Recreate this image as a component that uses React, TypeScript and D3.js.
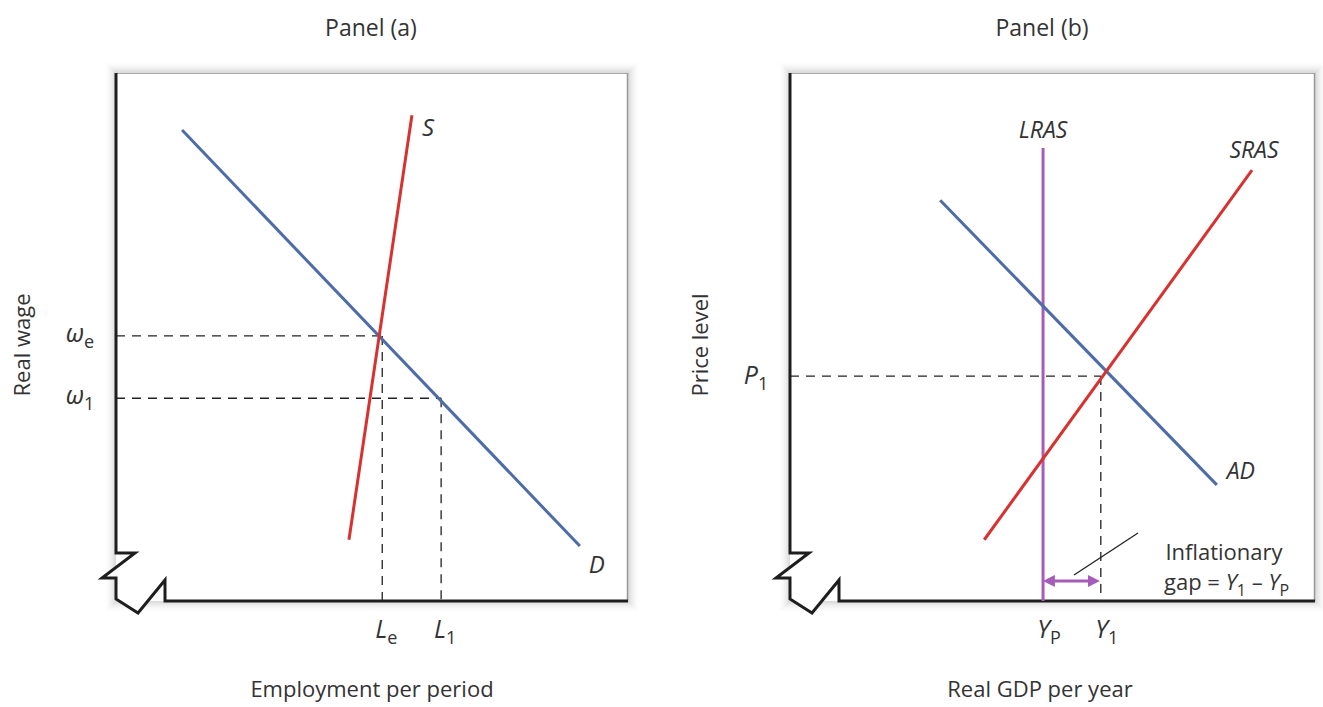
import React from "react";
import * as d3 from "d3";

// ---- Data (domain units 0..10 for each panel) ----
const demandA: [number, number][] = [[1.29, 8.92], [9.06, 1.04]];
const supplyA: [number, number][] = [[4.55, 1.16], [5.78, 9.2]];
const wageLevels = [5.02, 3.84];
const wageLabels = [["ω", "e"], ["ω", "1"]];
const employmentLevels = [5.2, 6.35];
const employmentLabels = [["L", "e"], ["L", "1"]];

const lrasX = 4.82;
const lrasTop = 8.58;
const srasB: [number, number][] = [[3.7, 1.16], [8.8, 8.16]];
const adB: [number, number][] = [[2.86, 7.59], [8.13, 2.2]];
const priceLevel = 4.26;
const outputLevels = [4.82, 5.92];
const outputLabels = [["Y", "P"], ["Y", "1"]];
const gapArrow = [5.0, 5.72];
const gapY = 0.38;

const W = 1323, H = 707;
const FONT = "'Open Sans', 'Noto Sans', sans-serif";
const BLUE = "#4d6ca8";
const RED = "#d7322f";
const PURPLE = "#a65cb8";
const TXT = "#333";
const shadowSteps = d3.range(1, 13);

function Sub({ x, y, main, sub, anchor = "middle" }: any) {
  return (
    <text x={x} y={y} textAnchor={anchor} fontFamily={FONT} fill={TXT} fontSize={25}>
      <tspan fontStyle="italic">{main}</tspan>
      <tspan fontSize={18} dy={6}>{sub}</tspan>
    </text>
  );
}

function Frame({ x0, x1, y0, y1 }: any) {
  const brk = [
    [x0, y1], [x0, y0 - 48], [x0 + 19, y0 - 48], [x0 - 14, y0 - 23], [x0, y0 - 23],
    [x0, y0 - 2], [x0 + 22, y0 + 12], [x0 + 49, y0 - 21], [x0 + 49, y0], [x1, y0],
  ];
  const line = d3.line();
  return (
    <g>
      {shadowSteps.map(i => (
        <rect key={i} x={x0 - i + 0.5} y={y1 - i + 0.5} width={x1 - x0 + 2 * i - 1} height={y0 - y1 + 2 * i - 1}
          fill="none" stroke="#000" strokeOpacity={0.17 * Math.pow(1 - i / 13, 2)} strokeWidth={1} />
      ))}
      <rect x={x0} y={y1} width={x1 - x0} height={y0 - y1} fill="#fff" />
      <line x1={x0} y1={y1 + 0.5} x2={x1} y2={y1 + 0.5} stroke="#aaa" strokeWidth={1} />
      <line x1={x1 - 0.5} y1={y1} x2={x1 - 0.5} y2={y0} stroke="#999" strokeWidth={1.5} />
      <path d={line(brk as any) || ""} fill="#fff" stroke="#1e1e1e" strokeWidth={3} strokeLinejoin="miter" />
    </g>
  );
}

export default function App() {
  const A = { x0: 116, x1: 628, y0: 601, y1: 73 };
  const B = { x0: 790, x1: 1315, y0: 601, y1: 73 };
  const xa = d3.scaleLinear().domain([0, 10]).range([A.x0, A.x1]);
  const ya = d3.scaleLinear().domain([0, 10]).range([A.y0, A.y1]);
  const xb = d3.scaleLinear().domain([0, 10]).range([B.x0, B.x1]);
  const yb = d3.scaleLinear().domain([0, 10]).range([B.y0, B.y1]);
  const lineA = d3.line<[number, number]>().x(d => xa(d[0])).y(d => ya(d[1]));
  const lineB = d3.line<[number, number]>().x(d => xb(d[0])).y(d => yb(d[1]));
  const dash = "9,7";

  return (
    <svg width={W} height={H} style={{ display: "block", position: "absolute", left: 0, top: 0 }}>
      <defs>
        <marker id="arrL" viewBox="0 0 10 10" refX="2" refY="5" markerWidth="4" markerHeight="4" orient="auto-start-reverse">
          <path d="M0,0 L10,5 L0,10 z" fill={PURPLE} />
        </marker>
      </defs>
      <rect width={W} height={H} fill="#fff" />

      {/* Panel (a) */}
      <text x={371} y={36} textAnchor="middle" fontFamily={FONT} fontSize={23} fill={TXT}>Panel (a)</text>
      <Frame {...A} />
      {wageLevels.map((w, i) => (
        <g key={"w" + i}>
          <line x1={xa(0)} x2={xa(employmentLevels[i])} y1={ya(w)} y2={ya(w)} stroke="#222" strokeWidth={1.3} strokeDasharray={dash} />
          <line x1={xa(employmentLevels[i])} x2={xa(employmentLevels[i])} y1={ya(w)} y2={ya(0)} stroke="#222" strokeWidth={1.3} strokeDasharray={dash} />
          <Sub x={80} y={ya(w) + 6} main={wageLabels[i][0]} sub={wageLabels[i][1]} />
        </g>
      ))}
      {employmentLevels.map((e, i) => (
        <Sub key={"e" + i} x={xa(e) + 4} y={638} main={employmentLabels[i][0]} sub={employmentLabels[i][1]} />
      ))}
      <path d={lineA(demandA) || ""} stroke={BLUE} strokeWidth={3} fill="none" />
      <path d={lineA(supplyA) || ""} stroke={RED} strokeWidth={3} fill="none" />
      <text x={xa(demandA[1][0]) + 17} y={ya(demandA[1][1]) + 27} textAnchor="middle" fontFamily={FONT} fontStyle="italic" fontSize={24} fill={TXT}>D</text>
      <text x={xa(supplyA[1][0]) + 16} y={ya(supplyA[1][1]) + 21} textAnchor="middle" fontFamily={FONT} fontStyle="italic" fontSize={24} fill={TXT}>S</text>
      <text x={372} y={697} textAnchor="middle" fontFamily={FONT} fontSize={22} fill={TXT}>Employment per period</text>
      <text transform="translate(30,345) rotate(-90)" textAnchor="middle" fontFamily={FONT} fontSize={22} fill={TXT}>Real wage</text>

      {/* Panel (b) */}
      <text x={1042} y={36} textAnchor="middle" fontFamily={FONT} fontSize={23} fill={TXT}>Panel (b)</text>
      <Frame {...B} />
      <line x1={xb(0)} x2={xb(outputLevels[1])} y1={yb(priceLevel)} y2={yb(priceLevel)} stroke="#222" strokeWidth={1.3} strokeDasharray={dash} />
      <line x1={xb(outputLevels[1])} x2={xb(outputLevels[1])} y1={yb(priceLevel)} y2={yb(0)} stroke="#222" strokeWidth={1.3} strokeDasharray={dash} />
      <Sub x={756} y={yb(priceLevel) + 8} main="P" sub="1" />
      {outputLevels.map((o, i) => (
        <Sub key={"o" + i} x={xb(o) + 6} y={638} main={outputLabels[i][0]} sub={outputLabels[i][1]} />
      ))}
      <line x1={xb(lrasX)} x2={xb(lrasX)} y1={yb(lrasTop)} y2={yb(0)} stroke={PURPLE} strokeWidth={3} />
      <path d={lineB(adB) || ""} stroke={BLUE} strokeWidth={3} fill="none" />
      <path d={lineB(srasB) || ""} stroke={RED} strokeWidth={3} fill="none" />
      <text x={xb(lrasX)} y={yb(lrasTop) - 10} textAnchor="middle" fontFamily={FONT} fontStyle="italic" fontSize={23} fill={TXT}>LRAS</text>
      <text x={xb(srasB[1][0]) + 2} y={yb(srasB[1][1]) - 12} textAnchor="middle" fontFamily={FONT} fontStyle="italic" fontSize={23} fill={TXT}>SRAS</text>
      <text x={xb(adB[1][0]) + 24} y={yb(adB[1][1]) - 6} textAnchor="middle" fontFamily={FONT} fontStyle="italic" fontSize={23} fill={TXT}>AD</text>
      <line x1={xb(gapArrow[0])} x2={xb(gapArrow[1])} y1={yb(gapY)} y2={yb(gapY)} stroke={PURPLE} strokeWidth={3} markerStart="url(#arrL)" markerEnd="url(#arrL)" />
      <line x1={1138} y1={533} x2={1074} y2={575} stroke="#222" strokeWidth={1.3} />
      <text x={1224} y={560} textAnchor="middle" fontFamily={FONT} fontSize={22} fill={TXT}>Inflationary</text>
      <text x={1164} y={590} fontFamily={FONT} fontSize={22} fill={TXT}>
        <tspan>gap = </tspan>
        <tspan fontStyle="italic">Y</tspan><tspan fontSize={16} dy={6}>1</tspan>
        <tspan dy={-6}> – </tspan>
        <tspan fontStyle="italic">Y</tspan><tspan fontSize={16} dy={6}>P</tspan>
      </text>
      <text x={1040} y={697} textAnchor="middle" fontFamily={FONT} fontSize={22} fill={TXT}>Real GDP per year</text>
      <text transform="translate(708,345) rotate(-90)" textAnchor="middle" fontFamily={FONT} fontSize={22} fill={TXT}>Price level</text>
    </svg>
  );
}
